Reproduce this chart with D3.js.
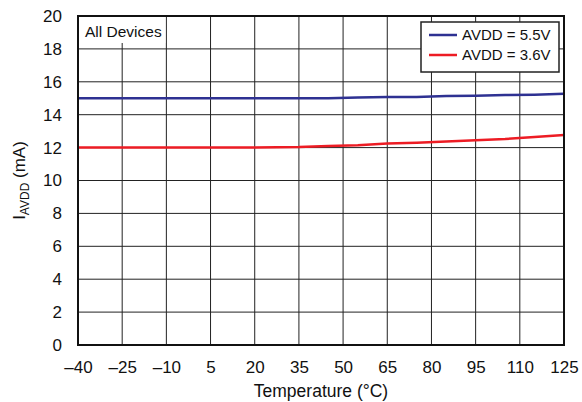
<!DOCTYPE html>
<html>
<head>
<meta charset="utf-8">
<script src="https://cdn.jsdelivr.net/npm/d3@7"></script>
<style>
  body { margin: 0; background: #fff; }
  svg { display: block; font-family: "Liberation Sans", Arial, sans-serif; }
</style>
</head>
<body>
<svg id="chart"></svg>
<script>
// Dữ liệu
const temps = [-40, -25, -10, 5, 20, 35, 45, 55, 65, 75, 85, 95, 105, 115, 125];
const avdd55 = [15.0, 15.0, 15.0, 15.0, 15.0, 15.0, 15.0, 15.05, 15.07, 15.08, 15.13, 15.15, 15.2, 15.22, 15.27];
const avdd36 = [12.0, 12.0, 12.0, 12.0, 12.0, 12.03, 12.1, 12.15, 12.25, 12.3, 12.37, 12.45, 12.52, 12.65, 12.77];
const xTicks = [-40, -25, -10, 5, 20, 35, 50, 65, 80, 95, 110, 125];
const yTicks = [0, 2, 4, 6, 8, 10, 12, 14, 16, 18, 20];
const seriesNames = ['AVDD = 5.5V', 'AVDD = 3.6V'];
const seriesColors = ['#2e3192', '#ed1c24'];

const width = 582, height = 402;
const margin = { left: 78, right: 18, top: 16, bottom: 57 };

const svg = d3.select('#chart')
    .attr('width', width)
    .attr('height', height);

const x = d3.scaleLinear().domain([-40, 125]).range([margin.left, width - margin.right]);
const y = d3.scaleLinear().domain([0, 20]).range([height - margin.bottom, margin.top]);

// Lưới
const grid = svg.append('g').attr('class', 'grid');
grid.selectAll('.vx')
    .data(xTicks.slice(1, -1))
    .enter().append('line')
    .attr('x1', d => x(d)).attr('x2', d => x(d))
    .attr('y1', y(0)).attr('y2', y(20))
    .attr('stroke', '#222').attr('stroke-width', 1);
grid.selectAll('.hy')
    .data(yTicks.slice(1, -1))
    .enter().append('line')
    .attr('x1', x(-40)).attr('x2', x(125))
    .attr('y1', d => y(d)).attr('y2', d => y(d))
    .attr('stroke', '#222').attr('stroke-width', 1);

// Nhãn "All Devices"
svg.append('rect')
    .attr('x', x(-40) + 1).attr('y', y(20) + 1)
    .attr('width', x(-10) - x(-40) - 2).attr('height', 26)
    .attr('fill', '#fff');
svg.append('text')
    .attr('x', x(-40) + 7).attr('y', y(20) + 21)
    .attr('font-size', 15.5).attr('fill', '#111')
    .text('All Devices');

// Đường dữ liệu
const line = d3.line()
    .x(d => x(d[0]))
    .y(d => y(d[1]));
[avdd55, avdd36].forEach((vals, i) => {
    svg.append('path')
        .datum(temps.map((t, j) => [t, vals[j]]))
        .attr('fill', 'none')
        .attr('stroke', seriesColors[i])
        .attr('stroke-width', 2.5)
        .attr('d', line);
});

// Khung
svg.append('rect')
    .attr('x', x(-40)).attr('y', y(20))
    .attr('width', x(125) - x(-40)).attr('height', y(0) - y(20))
    .attr('fill', 'none').attr('stroke', '#111').attr('stroke-width', 2);

// Trục
const xAxis = svg.append('g')
    .attr('transform', `translate(0,${y(0)})`)
    .call(d3.axisBottom(x).tickValues(xTicks).tickSize(0).tickPadding(16)
        .tickFormat(d => d < 0 ? '\u2013' + Math.abs(d) : d));
xAxis.select('.domain').remove();
xAxis.selectAll('text').attr('font-size', 17).attr('fill', '#111').attr('font-family', null);

const yAxis = svg.append('g')
    .attr('transform', `translate(${x(-40)},0)`)
    .call(d3.axisLeft(y).tickValues(yTicks).tickSize(0).tickPadding(16));
yAxis.select('.domain').remove();
yAxis.selectAll('text').attr('font-size', 17).attr('fill', '#111').attr('font-family', null);

// Tiêu đề trục
svg.append('text')
    .attr('x', (x(-40) + x(125)) / 2).attr('y', 397)
    .attr('text-anchor', 'middle').attr('font-size', 17.5).attr('fill', '#111')
    .text('Temperature (\u00B0C)');

const yTitle = svg.append('text')
    .attr('transform', `translate(25,${(y(0) + y(20)) / 2}) rotate(-90)`)
    .attr('text-anchor', 'middle').attr('font-size', 17).attr('fill', '#111');
yTitle.append('tspan').text('I');
yTitle.append('tspan').attr('font-size', 12).attr('dy', 4).text('AVDD');
yTitle.append('tspan').attr('dy', -4).text(' (mA)');

// Chú thích
const legend = svg.append('g').attr('transform', 'translate(421,22)');
legend.append('rect')
    .attr('width', 138).attr('height', 50)
    .attr('fill', '#fff').attr('stroke', '#222').attr('stroke-width', 1.5);
seriesNames.forEach((name, i) => {
    const g = legend.append('g').attr('transform', `translate(0,${13 + i * 20})`);
    g.append('line')
        .attr('x1', 8).attr('x2', 36)
        .attr('stroke', seriesColors[i]).attr('stroke-width', 2.5);
    g.append('text')
        .attr('x', 41).attr('dy', '0.35em')
        .attr('font-size', 15).attr('fill', '#111')
        .text(name);
});
</script>
</body>
</html>
